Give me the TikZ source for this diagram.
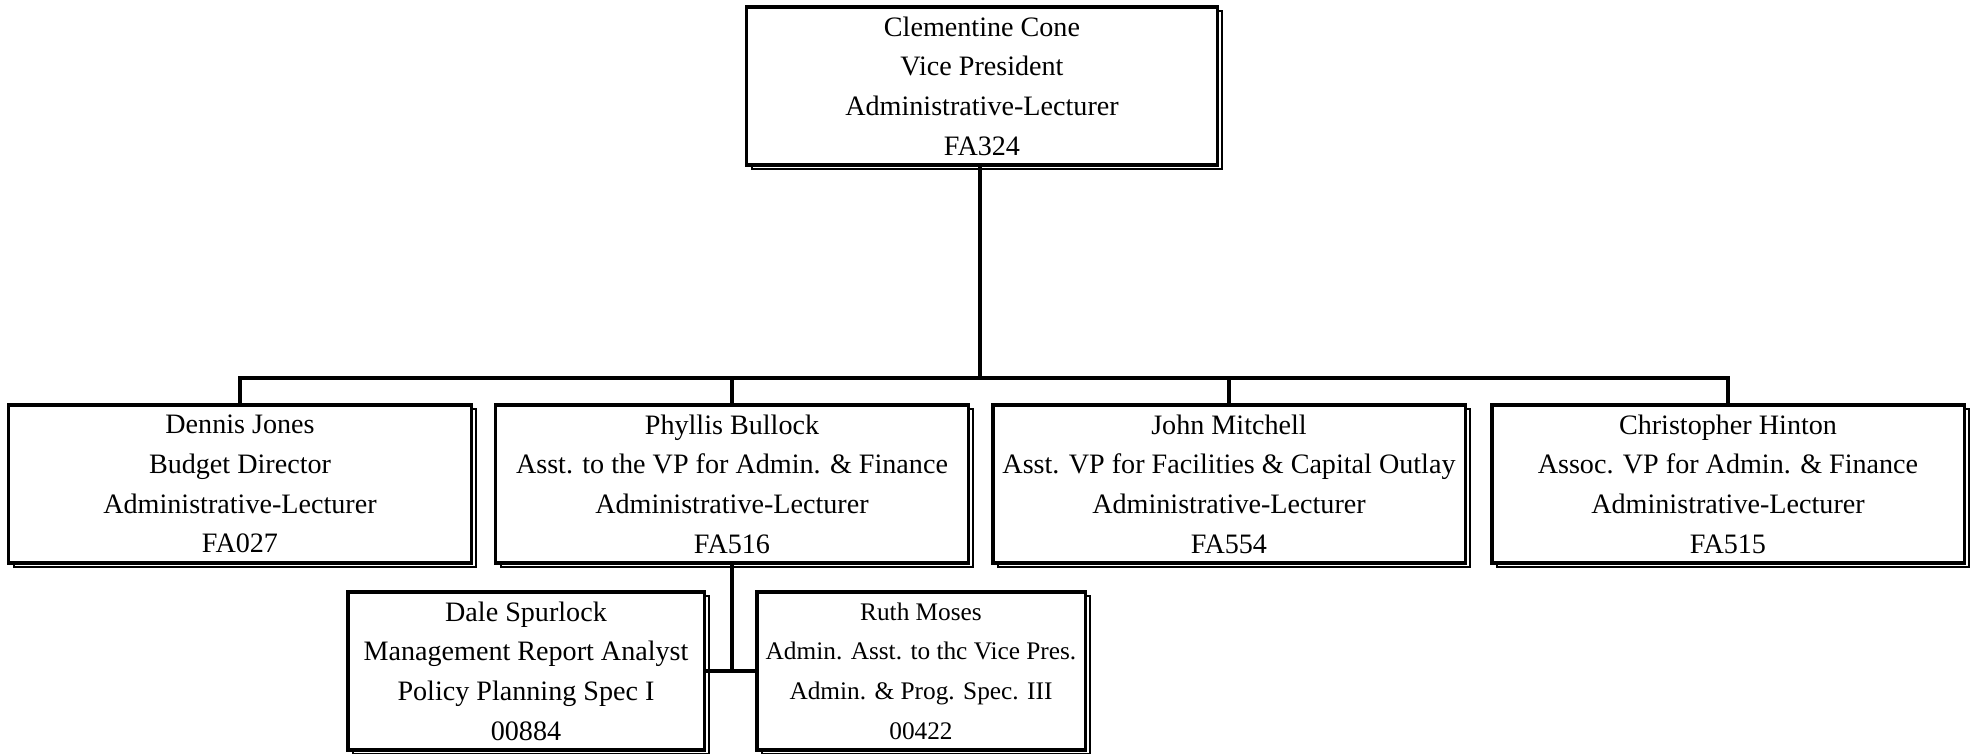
\documentclass[tikz,border=0pt]{standalone}
\usepackage{fontspec}
\setmainfont{Liberation Serif}
\usetikzlibrary{shadows}

\tikzset{
	post/.style={draw,line width=2.2pt,fill=white,align=center,inner sep=0pt,
		minimum height=3.95cm,
		font=\fontsize{20}{28.2}\selectfont,
		copy shadow={shadow xshift=3.5pt,shadow yshift=-3pt,draw,fill=white,line width=1.1pt}},
	link/.style={line width=2.2pt}
}

\begin{document}
\begin{tikzpicture}[x=0.025cm,y=-0.025cm,line cap=rect]
	\useasboundingbox (0,0) rectangle (1971,754);
	%% Top
	\node[post,minimum width=11.75cm] (vp) at (982,86)
		{Clementine Cone\\Vice President\\Administrative-Lecturer\\FA324};
	%% Second row
	\node[post,minimum width=11.55cm] (dj) at (240,484)
		{Dennis Jones\\Budget Director\\Administrative-Lecturer\\FA027};
	\node[post,minimum width=11.8cm] (pb) at (732,484)
		{Phyllis Bullock\\Asst. to the VP for Admin. \& Finance\\Administrative-Lecturer\\FA516};
	\node[post,minimum width=11.8cm] (jm) at (1229,484)
		{John Mitchell\\Asst. VP for Facilities \& Capital Outlay\\Administrative-Lecturer\\FA554};
	\node[post,minimum width=11.8cm] (ch) at (1728,484)
		{Christopher Hinton\\Assoc. VP for Admin. \& Finance\\Administrative-Lecturer\\FA515};
	%% Third row
	\node[post,minimum width=8.9cm] (ds) at (526,671)
		{Dale Spurlock\\Management Report Analyst\\Policy Planning Spec I\\00884};
	\node[post,minimum width=8.2cm,font=\fontsize{18}{28.2}\selectfont] (rm) at (921,671)
		{Ruth Moses\\Admin. Asst. to thc Vice Pres.\\Admin. \& Prog. Spec. III\\00422};
	%% Lines
	\coordinate (bus) at (980,378);
	\draw[link] (vp.south -| bus) -- (bus);
	\draw[link] (dj.north) |- (bus -| ch.north) -- (ch.north);
	\draw[link] (pb.north) -- (pb.north |- bus);
	\draw[link] (jm.north) -- (jm.north |- bus);
	\draw[link] (pb.south) -- (pb.south |- ds.east);
	\draw[link] (ds.east) -- (rm.west);
\end{tikzpicture}
\end{document}
